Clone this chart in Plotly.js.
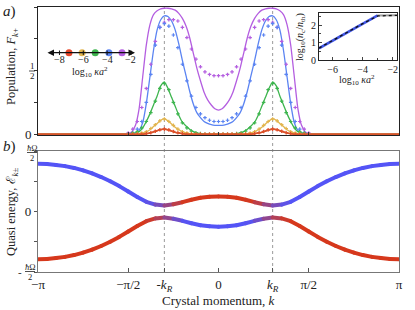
<!DOCTYPE html>
<html><head><meta charset="utf-8">
<script src="https://cdn.plot.ly/plotly-3.0.1.min.js"></script>
<style>html,body{margin:0;padding:0;background:#fff}</style>
</head><body>
<div id="chart" style="width:415px;height:310px"></div>
<script>
// ---------- DATA (k in units of pi) ----------
const kR = 0.3;
const tickK = [-1, -0.5, -0.3, 0, 0.3, 0.5, 1];
const tickKText = ['−π', '−π/2', '-<i>k</i><sub><i>R</i></sub>', '0', '<i>k</i><sub><i>R</i></sub>', 'π/2', 'π'];

// Panel a) population, solid lines
const kLine = [-1,-0.5,-0.48,-0.46,-0.44,-0.42,-0.4,-0.38,-0.36,-0.34,-0.32,-0.3,-0.28,-0.26,-0.24,-0.22,-0.2,-0.18,-0.16,-0.14,-0.12,-0.1,-0.08,-0.06,-0.04,-0.02,0,0.02,0.04,0.06,0.08,0.1,0.12,0.14,0.16,0.18,0.2,0.22,0.24,0.26,0.28,0.3,0.32,0.34,0.36,0.38,0.4,0.42,0.44,0.46,0.48,0.5,1];
const linePurple = [0, 0,0.02,0.07,0.20,0.45,0.70,0.86,0.94,0.97,0.985,0.99,0.99,0.985,0.975,0.95,0.91,0.85,0.76,0.64,0.52,0.42,0.33,0.27,0.23,0.20, 0.19, 0.20,0.23,0.27,0.33,0.42,0.52,0.64,0.76,0.85,0.91,0.95,0.975,0.985,0.99,0.99,0.985,0.97,0.94,0.86,0.70,0.45,0.20,0.07,0.02,0, 0];
const lineBlue = [0, 0,0,0.01,0.03,0.09,0.24,0.45,0.66,0.82,0.90,0.93,0.925,0.89,0.82,0.71,0.58,0.46,0.34,0.24,0.17,0.13,0.10,0.085,0.075,0.07, 0.07, 0.07,0.075,0.085,0.10,0.13,0.17,0.24,0.34,0.46,0.58,0.71,0.82,0.89,0.925,0.93,0.90,0.82,0.66,0.45,0.24,0.09,0.03,0.01,0,0, 0];
const lineGreen = [0, 0,0,0.01,0.02,0.05,0.10,0.16,0.23,0.30,0.38,0.41,0.36,0.29,0.22,0.15,0.095,0.065,0.04,0.02,0.01,0.005,0,0,0,0, 0, 0,0,0,0,0.005,0.01,0.02,0.04,0.065,0.095,0.15,0.22,0.29,0.36,0.41,0.38,0.30,0.23,0.16,0.10,0.05,0.02,0.01,0,0, 0];
const lineYellow = [0, 0,0,0,0.005,0.01,0.02,0.035,0.06,0.085,0.11,0.12,0.105,0.08,0.055,0.035,0.02,0.01,0.005,0,0,0,0,0,0,0, 0, 0,0,0,0,0,0,0,0.005,0.01,0.02,0.035,0.055,0.08,0.105,0.12,0.11,0.085,0.06,0.035,0.02,0.01,0.005,0,0,0, 0];
const lineRed = [0, 0,0,0,0,0,0.005,0.01,0.018,0.028,0.037,0.04,0.035,0.025,0.015,0.01,0.005,0,0,0,0,0,0,0,0,0, 0, 0,0,0,0,0,0,0,0,0,0.005,0.01,0.015,0.025,0.035,0.04,0.037,0.028,0.018,0.01,0.005,0,0,0,0,0, 0];

// Panel a) population, simulation markers
const kMark = [-0.5,-0.475,-0.45,-0.425,-0.4,-0.375,-0.35,-0.325,-0.3,-0.275,-0.25,-0.225,-0.2,-0.175,-0.15,-0.125,-0.1,-0.075,-0.05,-0.025,0,0.025,0.05,0.075,0.1,0.125,0.15,0.175,0.2,0.225,0.25,0.275,0.3,0.325,0.35,0.375,0.4,0.425,0.45,0.475,0.5];
const markPurple = [0.01,0.04,0.10,0.21,0.36,0.55,0.73,0.84,0.88,0.90,0.90,0.89,0.84,0.76,0.67,0.59,0.53,0.49,0.47,0.46, 0.46, 0.46,0.47,0.49,0.53,0.59,0.67,0.76,0.84,0.89,0.90,0.90,0.88,0.84,0.73,0.55,0.36,0.21,0.10,0.04,0.01];
const markBlue = [0,0.01,0.04,0.10,0.25,0.47,0.70,0.84,0.87,0.85,0.78,0.68,0.55,0.42,0.30,0.21,0.16,0.13,0.11,0.10, 0.10, 0.10,0.11,0.13,0.16,0.21,0.30,0.42,0.55,0.68,0.78,0.85,0.87,0.84,0.70,0.47,0.25,0.10,0.04,0.01,0];
const markGreen = [0,0.01,0.02,0.05,0.10,0.17,0.26,0.36,0.40,0.35,0.25,0.16,0.09,0.05,0.025,0.012,0.005,0,0,0, 0, 0,0,0,0.005,0.012,0.025,0.05,0.09,0.16,0.25,0.35,0.40,0.36,0.26,0.17,0.10,0.05,0.02,0.01,0];
const markYellow = [0,0,0.005,0.01,0.02,0.045,0.075,0.105,0.12,0.10,0.07,0.04,0.02,0.01,0.005,0,0,0,0,0, 0, 0,0,0,0,0,0.005,0.01,0.02,0.04,0.07,0.10,0.12,0.105,0.075,0.045,0.02,0.01,0.005,0,0];
const markRed = [0,0,0,0,0.005,0.012,0.024,0.035,0.04,0.034,0.022,0.012,0.005,0,0,0,0,0,0,0, 0, 0,0,0,0,0,0,0,0.005,0.012,0.022,0.034,0.04,0.035,0.024,0.012,0.005,0,0,0,0];

// Number-line legend: log10 kappa a^2 of each series
const legendVals = [-7.2, -6.1, -5.0, -3.85, -2.75];
const legendTicks = [-8, -6, -4, -2];
const legendTickText = ['−8', '−6', '−4', '−2'];

// Inset: log10(n_c/n_th) vs log10 kappa a^2
const insetTheoryX = [-6.9, -6, -5, -4, -3];
const insetTheoryY = [0.67, 1.11, 1.60, 2.08, 2.55];
const insetFlatX = [-3, -2.5, -2, -1.72];
const insetFlatY = [2.55, 2.56, 2.56, 2.56];
const insetSimX = [-6.9, -6, -5, -4, -3, -2.5, -2, -1.72];
const insetSimY = [0.68, 1.12, 1.60, 2.08, 2.52, 2.55, 2.55, 2.55];

// Panel b) quasi energy bands (units of hbar*Omega)
const kBand = [-1,-0.95,-0.9,-0.85,-0.8,-0.75,-0.7,-0.65,-0.6,-0.55,-0.5,-0.45,-0.4,-0.35,-0.3,-0.25,-0.2,-0.15,-0.1,-0.05,0,0.05,0.1,0.15,0.2,0.25,0.3,0.35,0.4,0.45,0.5,0.55,0.6,0.65,0.7,0.75,0.8,0.85,0.9,0.95,1];
const bandUpper = [0.395,0.392,0.385,0.375,0.36,0.34,0.315,0.285,0.25,0.21,0.165,0.12,0.08,0.057,0.05,0.06,0.077,0.097,0.113,0.122, 0.125, 0.122,0.113,0.097,0.077,0.06,0.05,0.057,0.08,0.12,0.165,0.21,0.25,0.285,0.315,0.34,0.36,0.375,0.385,0.392,0.395];
const bandLower = [-0.395,-0.392,-0.385,-0.375,-0.36,-0.34,-0.315,-0.285,-0.25,-0.21,-0.165,-0.12,-0.08,-0.057,-0.05,-0.06,-0.077,-0.097,-0.113,-0.122, -0.125, -0.122,-0.113,-0.097,-0.077,-0.06,-0.05,-0.057,-0.08,-0.12,-0.165,-0.21,-0.25,-0.285,-0.315,-0.34,-0.36,-0.375,-0.385,-0.392,-0.395];
// fraction of "red" character in the upper band
const upperRedFrac = [0,0,0,0,0,0,0,0,0,0,0,0,0,0.15,0.4,0.65,0.95,1,1,1, 1, 1,1,1,0.95,0.65,0.4,0.15,0,0,0,0,0,0,0,0,0,0,0,0,0];

// ---------- STYLE ----------
const FONT = 'Liberation Serif, DejaVu Serif, serif';
const C = {purple:'#b45ee0', blue:'#5b84f2', green:'#3db54e', yellow:'#e2b54e', red:'#e8462a'};
const RED = [214,56,28], BLUE = [84,84,246];
function mix(f){ const c = RED.map((r,i)=>Math.round(r*f + BLUE[i]*(1-f))); return 'rgb('+c.join(',')+')'; }
const W = 415, H = 310;
const px = x => x / W, py = y => 1 - y / H;

const traces = [];
const series = [
  [linePurple, markPurple, C.purple],
  [lineBlue, markBlue, C.blue],
  [lineGreen, markGreen, C.green],
  [lineYellow, markYellow, C.yellow],
  [lineRed, markRed, C.red]
];
series.forEach(s => {
  traces.push({x:kLine, y:s[0], xaxis:'x', yaxis:'y', mode:'lines', line:{color:s[2], width:1.3, shape:'spline', smoothing:0.6}, hoverinfo:'skip'});
});
series.forEach(s => {
  traces.push({x:kMark, y:s[1], xaxis:'x', yaxis:'y', mode:'markers', marker:{color:s[2], size:3, symbol:'cross'}, hoverinfo:'skip'});
});
// baseline of red on top
traces.push({x:kLine, y:lineRed, xaxis:'x', yaxis:'y', mode:'lines', line:{color:'#d9542a', width:1.6, shape:'spline', smoothing:0.6}, hoverinfo:'skip'});

// bands as coloured segments
for (let i = 0; i < kBand.length - 1; i++) {
  const fu = (upperRedFrac[i] + upperRedFrac[i+1]) / 2;
  traces.push({x:[kBand[i], kBand[i+1]], y:[bandUpper[i], bandUpper[i+1]], xaxis:'x2', yaxis:'y2', mode:'lines', line:{color:mix(fu), width:4}, hoverinfo:'skip'});
  traces.push({x:[kBand[i], kBand[i+1]], y:[bandLower[i], bandLower[i+1]], xaxis:'x2', yaxis:'y2', mode:'lines', line:{color:mix(1-fu), width:4}, hoverinfo:'skip'});
}

// inset
traces.push({x:insetFlatX, y:insetFlatY, xaxis:'x3', yaxis:'y3', mode:'lines', line:{color:'#a0a0a0', width:2}, hoverinfo:'skip'});
traces.push({x:insetTheoryX, y:insetTheoryY, xaxis:'x3', yaxis:'y3', mode:'lines', line:{color:'#3f55e6', width:2.6}, hoverinfo:'skip'});
traces.push({x:insetSimX, y:insetSimY, xaxis:'x3', yaxis:'y3', mode:'lines', line:{color:'#111', width:1.3, dash:'dot'}, hoverinfo:'skip'});

// number-line legend dots
traces.push({x:legendVals, y:legendVals.map(()=>0), xaxis:'x4', yaxis:'y4', mode:'markers',
  marker:{color:[C.red, C.yellow, C.green, C.blue, C.purple], size:7}, hoverinfo:'skip', cliponaxis:false});

const xdom = [px(38), px(399)];
const tickFont = {family:FONT, size:13, color:'#222'};
const small = {family:FONT, size:10, color:'#222'};
const layout = {
  width:W, height:H, margin:{l:0,r:0,t:0,b:0}, showlegend:false, hovermode:false,
  paper_bgcolor:'#fff', plot_bgcolor:'rgba(0,0,0,0)', font:{family:FONT, color:'#222'},
  xaxis:{domain:xdom, anchor:'y', range:[-1,1], tickvals:[-0.5,0,0.5], showticklabels:false, ticks:'inside', ticklen:3, tickcolor:'#333',
    showline:true, mirror:true, linecolor:'#222', linewidth:1, showgrid:false, zeroline:false},
  yaxis:{domain:[py(135), py(7)], anchor:'x', range:[-0.006,1], tickvals:[0,1], ticktext:['0','1'],
    minor:{dtick:0.25, tick0:0, ticks:'outside', ticklen:3, tickcolor:'#333', showgrid:false},
    ticks:'outside', ticklen:3, tickcolor:'#333', tickfont:tickFont, showline:true, mirror:true, linecolor:'#222', linewidth:1, showgrid:false, zeroline:false},
  xaxis2:{domain:xdom, anchor:'y2', range:[-1,1], tickvals:tickK, ticktext:tickKText, ticks:'inside', ticklen:4, tickcolor:'#555', tickfont:tickFont,
    showline:true, mirror:true, linecolor:'#777', linewidth:1.2, showgrid:false, zeroline:false},
  yaxis2:{domain:[py(272), py(151)], anchor:'x2', range:[-0.5,0.5], tickvals:[0], ticktext:['0'],
    minor:{dtick:0.25, tick0:0, ticks:'outside', ticklen:3, tickcolor:'#555', showgrid:false},
    ticks:'outside', ticklen:3, tickcolor:'#555', tickfont:tickFont,
    showline:true, mirror:true, linecolor:'#777', linewidth:1.2, showgrid:false, zeroline:false},
  xaxis3:{domain:[px(319), px(397)], anchor:'y3', range:[-6.9,-1.72], tickvals:[-6,-4,-2], ticktext:['−6','−4','−2'], ticks:'inside', ticklen:3,
    minor:{dtick:1, tick0:0, ticks:'inside', ticklen:2, showgrid:false},
    tickfont:small, showline:true, mirror:true, linecolor:'#222', linewidth:1, showgrid:false, zeroline:false},
  yaxis3:{domain:[py(60), py(13)], anchor:'x3', range:[0,2.69], tickvals:[0,1,2], ticktext:['0','1','2'], ticks:'inside', ticklen:3,
    minor:{dtick:0.5, tick0:0, ticks:'inside', ticklen:2, showgrid:false},
    tickfont:small, showline:true, mirror:true, linecolor:'#222', linewidth:1, showgrid:false, zeroline:false},
  xaxis4:{domain:[px(46), px(135)], anchor:'y4', range:[-9.13,-1.66], visible:false},
  yaxis4:{domain:[py(58.7), py(46.7)], anchor:'x4', range:[-1,1], visible:false},
  shapes:[
    {type:'line', xref:'x2', yref:'paper', x0:-kR, x1:-kR, y0:py(272), y1:py(7), line:{color:'#9a9a9a', width:1, dash:'dot'}, layer:'below'},
    {type:'line', xref:'x2', yref:'paper', x0:kR, x1:kR, y0:py(272), y1:py(7), line:{color:'#9a9a9a', width:1, dash:'dot'}, layer:'below'},
    // fraction bars
    {type:'line', xref:'paper', yref:'paper', x0:px(27), x1:px(37), y0:py(152.5), y1:py(152.5), line:{color:'#222', width:0.8}},
    {type:'line', xref:'paper', yref:'paper', x0:px(25), x1:px(35), y0:py(271.5), y1:py(271.5), line:{color:'#222', width:0.8}},
    {type:'line', xref:'paper', yref:'paper', x0:px(29), x1:px(35), y0:py(71), y1:py(71), line:{color:'#222', width:0.8}}
  ].concat(legendTicks.map(t => ({type:'line', xref:'x4', yref:'paper', x0:t, x1:t, y0:py(55), y1:py(50.5), line:{color:'#111', width:1}}))),
  annotations:[
    {xref:'paper', yref:'paper', x:px(1), y:py(11), text:'<i>a</i>)', showarrow:false, xanchor:'left', yanchor:'middle', font:{family:FONT, size:15, color:'#222'}},
    {xref:'paper', yref:'paper', x:px(1), y:py(147), text:'<i>b</i>)', showarrow:false, xanchor:'left', yanchor:'middle', font:{family:FONT, size:15, color:'#222'}},
    {xref:'paper', yref:'paper', x:px(12), y:py(67), text:'Population, <i>F</i><sub><i>k</i>+</sub>', textangle:-90, showarrow:false, xanchor:'center', yanchor:'middle', font:{family:FONT, size:12.5, color:'#222'}},
    {xref:'paper', yref:'paper', x:px(12), y:py(212), text:'Quasi energy, ℰ<sub><i>k</i>±</sub>', textangle:-90, showarrow:false, xanchor:'center', yanchor:'middle', font:{family:FONT, size:12.5, color:'#222'}},
    {xref:'paper', yref:'paper', x:px(218), y:py(300), text:'Crystal momentum, <i>k</i>', showarrow:false, xanchor:'center', yanchor:'middle', font:{family:FONT, size:13, color:'#222'}},
    // 1/2 tick of panel a
    {xref:'paper', yref:'paper', x:px(32), y:py(66.5), text:'1', showarrow:false, xanchor:'center', yanchor:'middle', font:{family:FONT, size:9, color:'#222'}},
    {xref:'paper', yref:'paper', x:px(32), y:py(76), text:'2', showarrow:false, xanchor:'center', yanchor:'middle', font:{family:FONT, size:9, color:'#222'}},
    // hbar Omega / 2 fractions
    {xref:'paper', yref:'paper', x:px(32), y:py(147.5), text:'<i>ħ</i>Ω', showarrow:false, xanchor:'center', yanchor:'middle', font:{family:FONT, size:8.5, color:'#222'}},
    {xref:'paper', yref:'paper', x:px(32), y:py(158), text:'2', showarrow:false, xanchor:'center', yanchor:'middle', font:{family:FONT, size:8.5, color:'#222'}},
    {xref:'paper', yref:'paper', x:px(30), y:py(266.5), text:'<i>ħ</i>Ω', showarrow:false, xanchor:'center', yanchor:'middle', font:{family:FONT, size:8.5, color:'#222'}},
    {xref:'paper', yref:'paper', x:px(30), y:py(277), text:'2', showarrow:false, xanchor:'center', yanchor:'middle', font:{family:FONT, size:8.5, color:'#222'}},
    {xref:'paper', yref:'paper', x:px(20), y:py(271.5), text:'-', showarrow:false, xanchor:'center', yanchor:'middle', font:{family:FONT, size:11, color:'#222'}},
    // number line arrow
    {xref:'paper', yref:'paper', x:px(135), y:py(52.7), ax:-89, ay:0, axref:'pixel', ayref:'pixel', text:'', showarrow:true, arrowhead:2, startarrowhead:2, arrowside:'end+start', arrowsize:1, arrowwidth:1.3, arrowcolor:'#111'},
    {xref:'paper', yref:'paper', x:px(90), y:py(72), text:'log<sub>10</sub> <i>κa</i><sup>2</sup>', showarrow:false, xanchor:'center', yanchor:'middle', font:small},
    // inset titles
    {xref:'paper', yref:'paper', x:px(357), y:py(80), text:'log<sub>10</sub> <i>κa</i><sup>2</sup>', showarrow:false, xanchor:'center', yanchor:'middle', font:small},
    {xref:'paper', yref:'paper', x:px(300), y:py(37), text:'log<sub>10</sub>(<i>n</i><sub>c</sub>/<i>n</i><sub>th</sub>)', textangle:-90, showarrow:false, xanchor:'center', yanchor:'middle', font:small}
  ].concat(legendTicks.map((t,i) => ({xref:'x4', yref:'paper', x:t, y:py(59.5), text:legendTickText[i], showarrow:false, xanchor:'center', yanchor:'middle', font:small})))
};

Plotly.newPlot('chart', traces, layout, {staticPlot:true, displayModeBar:false}).then(() => {
  document.querySelectorAll('.scatterlayer .js-line').forEach(p => {
    if (parseFloat(p.style.strokeWidth) >= 3.5) { p.style.strokeLinecap = 'round'; }
  });
});
</script>
</body></html>
